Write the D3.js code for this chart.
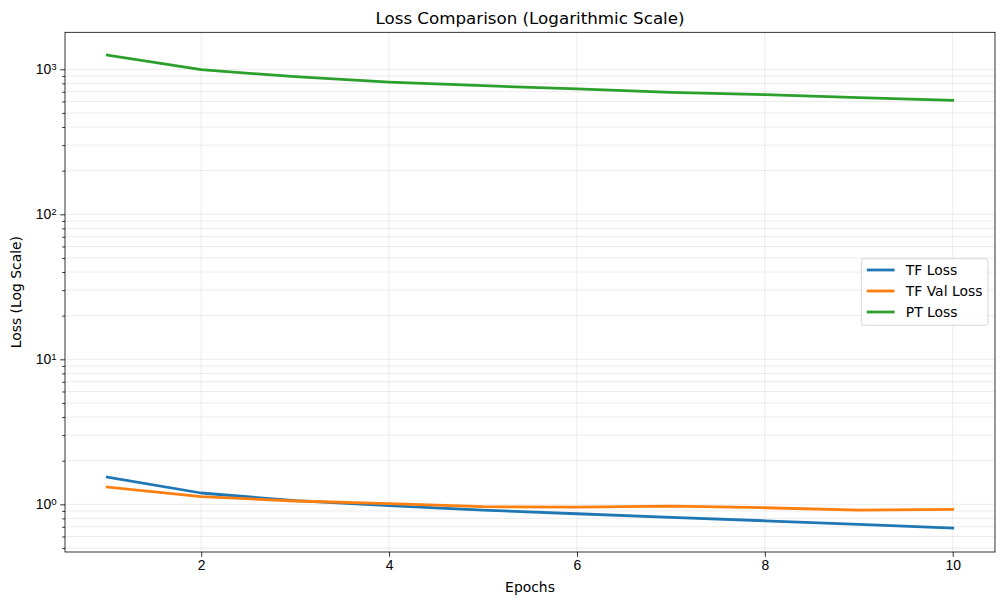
<!DOCTYPE html>
<html>
<head>
<meta charset="utf-8">
<script src="https://cdn.jsdelivr.net/npm/d3@7"></script>
<style>
  body { margin: 0; background: #fff; }
  svg { font-family: "DejaVu Sans", sans-serif; }
</style>
</head>
<body>
<div id="chart"></div>
<script>
// data prep
let epochs = [1, 2, 3, 4, 5, 6, 7, 8, 9, 10];
let tfLoss = [1.54, 1.197, 1.059, 0.978, 0.913, 0.861, 0.813, 0.770, 0.728, 0.687];
let tfValLoss = [1.316, 1.128, 1.054, 1.010, 0.963, 0.958, 0.973, 0.947, 0.913, 0.924];
let ptLoss = [1255, 994, 889, 817, 771, 732, 694, 668, 637, 611];
let xTicks = [2, 4, 6, 8, 10];
let yMajor = [1, 10, 100, 1000];
let seriesNames = ["TF Loss", "TF Val Loss", "PT Loss"];

// colors
let colorBlue = "#1f77b4";
let colorOrange = "#ff7f0e";
let colorGreen = "#2ca02c";

let width = 1004,
    height = 605;
let margin = {left: 65, right: 9, top: 32.3, bottom: 53};

let svg = d3.select("#chart").append("svg")
    .attr("width", width)
    .attr("height", height);

let x = d3.scaleLinear()
    .domain([0.55, 10.45])
    .range([margin.left, width - margin.right]);

let y = d3.scaleLog()
    .domain([0.469, 1800])
    .range([height - margin.bottom, margin.top]);

// minor ticks 2..9 of each decade inside the domain
let yMinor = [];
[0.1, 1, 10, 100, 1000].forEach(function(d) {
    d3.range(2, 10).forEach(function(k) {
        let v = d * k;
        if (v >= y.domain()[0] && v <= y.domain()[1]) yMinor.push(v);
    });
});

// grid
let grid = svg.append("g").attr("class", "grid");
grid.selectAll(".gx")
    .data(xTicks)
    .enter()
    .append("line")
    .attr("x1", d => x(d)).attr("x2", d => x(d))
    .attr("y1", margin.top).attr("y2", height - margin.bottom)
    .style("stroke", "#b0b0b0").style("stroke-opacity", 0.3).style("stroke-width", 0.8);
grid.selectAll(".gy")
    .data(yMajor.concat(yMinor))
    .enter()
    .append("line")
    .attr("x1", margin.left).attr("x2", width - margin.right)
    .attr("y1", d => y(d)).attr("y2", d => y(d))
    .style("stroke", "#b0b0b0").style("stroke-opacity", 0.3).style("stroke-width", 0.8);

// lines
let line = d3.line()
    .x((d, i) => x(epochs[i]))
    .y(d => y(d));

let series = [
    {name: seriesNames[0], values: tfLoss, color: colorBlue},
    {name: seriesNames[1], values: tfValLoss, color: colorOrange},
    {name: seriesNames[2], values: ptLoss, color: colorGreen}
];

svg.selectAll(".series")
    .data(series)
    .enter()
    .append("path")
    .attr("class", "series")
    .attr("d", d => line(d.values))
    .style("fill", "none")
    .style("stroke", d => d.color)
    .style("stroke-width", 2.78)
    .style("stroke-linecap", "square")
    .style("stroke-linejoin", "round");

// x axis
let xAxis = d3.axisBottom(x)
    .tickValues(xTicks)
    .tickSize(4.86)
    .tickPadding(3.5)
    .tickFormat(d3.format("d"));
svg.append("g")
    .attr("transform", "translate(0," + (height - margin.bottom) + ")")
    .call(xAxis)
    .call(g => g.select(".domain").remove())
    .selectAll("text")
    .style("font-size", "13.9px")
    .style("fill", "#000");

// y axis, major ticks with superscript labels
let yAxis = d3.axisLeft(y)
    .tickValues(yMajor)
    .tickSize(4.86)
    .tickPadding(3.5)
    .tickFormat("");
let yg = svg.append("g")
    .attr("transform", "translate(" + margin.left + ",0)")
    .call(yAxis);
yg.select(".domain").remove();
yg.selectAll(".tick text").each(function(d) {
    let t = d3.select(this)
        .style("font-size", "13.9px")
        .style("fill", "#000")
        .attr("dy", "0.32em");
    t.append("tspan").text("10");
    t.append("tspan")
        .text(Math.round(Math.log10(d)))
        .attr("dy", "-0.45em")
        .style("font-size", "9.7px");
});

// y minor ticks
svg.append("g")
    .attr("transform", "translate(" + margin.left + ",0)")
    .call(d3.axisLeft(y).tickValues(yMinor).tickSize(2.78).tickFormat(""))
    .call(g => g.select(".domain").remove());

svg.selectAll(".tick line").style("stroke", "#000").style("stroke-width", 0.8);

// frame
svg.append("rect")
    .attr("x", margin.left)
    .attr("y", margin.top)
    .attr("width", width - margin.left - margin.right)
    .attr("height", height - margin.top - margin.bottom)
    .style("fill", "none")
    .style("stroke", "#000")
    .style("stroke-width", 0.8);

// labels
svg.append("text")
    .attr("x", (margin.left + width - margin.right) / 2)
    .attr("y", 23.5)
    .attr("text-anchor", "middle")
    .style("font-size", "16.7px")
    .text("Loss Comparison (Logarithmic Scale)");

svg.append("text")
    .attr("x", (margin.left + width - margin.right) / 2)
    .attr("y", 592)
    .attr("text-anchor", "middle")
    .style("font-size", "13.9px")
    .text("Epochs");

svg.append("text")
    .attr("transform", "translate(21," + ((margin.top + height - margin.bottom) / 2) + ") rotate(-90)")
    .attr("text-anchor", "middle")
    .style("font-size", "13.9px")
    .text("Loss (Log Scale)");

// legend
let legend = svg.append("g").attr("transform", "translate(861.3,258.7)");
legend.append("rect")
    .attr("width", 126.7)
    .attr("height", 66.6)
    .attr("rx", 2.8)
    .style("fill", "#fff")
    .style("fill-opacity", 0.8)
    .style("stroke", "#cccccc")
    .style("stroke-width", 0.8);
let item = legend.selectAll(".item")
    .data(series)
    .enter()
    .append("g")
    .attr("transform", (d, i) => "translate(0," + (11.3 + i * 21) + ")");
item.append("line")
    .attr("x1", 5.5).attr("x2", 33.3)
    .style("stroke", d => d.color)
    .style("stroke-width", 2.78);
item.append("text")
    .attr("x", 44.5)
    .attr("dy", "0.35em")
    .style("font-size", "13.9px")
    .text(d => d.name);
</script>
</body>
</html>
